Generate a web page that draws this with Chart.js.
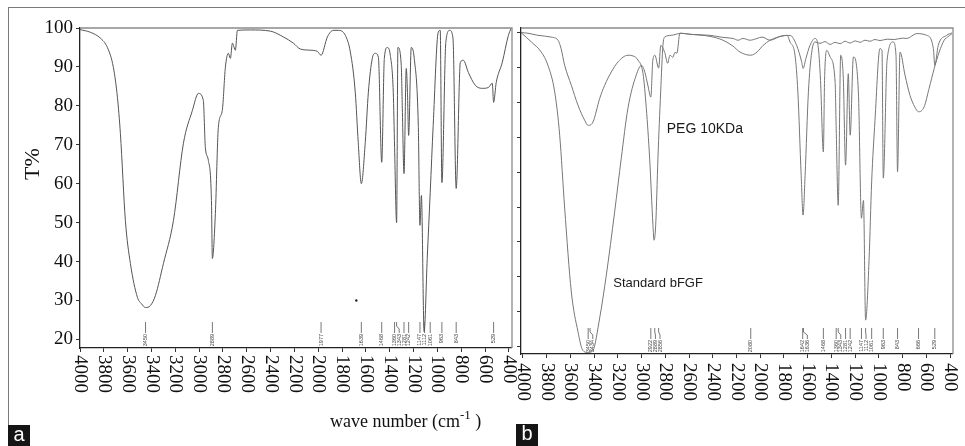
<!DOCTYPE html>
<html>
<head>
<meta charset="utf-8">
<script src="https://cdn.jsdelivr.net/npm/chart.js@4.4.1/dist/chart.umd.min.js"></script>
<style>
  html, body { margin: 0; padding: 0; background: #fff; }
  #wrap { position: relative; width: 965px; height: 446px; overflow: hidden; }
  #wrap canvas { position: absolute; left: 0; top: 0; }
  .frame { position: absolute; left: 8px; top: 7px; width: 970px; height: 418px;
           border-top: 1.5px solid #7a7a7a; border-left: 1.5px solid #7a7a7a; }
  .tag { position: absolute; width: 22px; height: 22px; background: #151515; color: #fff;
         font: 20px "Liberation Sans", Arial, sans-serif; line-height: 19px; text-align: center; }
</style>
</head>
<body>
<div id="wrap">
  <div class="frame"></div>
  <canvas id="chart-a" width="965" height="446"></canvas>
  <canvas id="chart-b" width="965" height="446"></canvas>
  <div class="tag" style="left:8px;top:425px">a</div>
  <div class="tag" style="left:516px;top:424px">b</div>
</div>
<script>
// Panel a: one FTIR trace (wave number cm-1 / transmittance %)
const aWave = [4000,3913,3829,3770,3720,3686,3661,3619,3577,3518,3485,3450,3409,3367,3300,3216,3132,3057,3006,2965,
  2948,2923,2897,2889,2864,2839,2806,2780,2755,2738,2721,2696,2679,2570,2403,2293,2209,2151,2067,2008,
  1977,1924,1874,1832,1773,1731,1690,1665,1639,1606,1580,1547,1522,1496,1468,1446,1421,1396,1371,1360,
  1343,1332,1304,1295,1281,1262,1252,1242,1220,1195,1161,1147,1135,1112,1086,1061,1036,994,977,963,
  930,897,870,843,808,783,741,683,624,574,540,529,507,456,405,383];
const aTrans = [99.6,98.9,97.4,95.0,89.9,82.2,72.9,50.5,39.5,30.8,29.2,28.2,28.7,31.3,39.5,50.5,70.4,78.8,83.2,81.4,
  69.3,66.0,55.7,40.8,52.3,74.5,78.8,89.9,93.5,92.2,96.1,94.3,99.4,99.5,99.2,97.7,96.1,94.6,94.3,94.0,
  93.0,97.7,99.4,99.4,98.1,93.8,83.5,70.6,60.0,70.6,83.5,92.2,93.5,92.5,65.5,92.2,95.0,93.0,83.5,69.3,
  50.0,95.0,90.4,79.4,62.6,89.6,83.5,72.4,95.0,92.2,75.0,49.3,57.0,22.0,40.8,57.7,75.0,98.9,99.4,60.3,
  96.3,99.4,97.4,58.8,91.2,91.7,88.6,85.3,84.5,84.7,85.8,80.9,86.0,91.2,98.1,99.9];
const aPeaks = [3450,2889,1977,1639,1468,1360,1343,1281,1242,1147,1112,1061,963,843,529];
const aDotWave = [1681];
const aDotTrans = [30];

// Panel b: PEG 10KDa and standard bFGF
const pegWave = [4016,3957,3873,3763,3704,3679,3648,3592,3536,3480,3450,3409,3353,3311,3255,3198,3114,3072,3030,2988,
  2960,2932,2904,2895,2881,2862,2839,2820,2805,2750,2665,2592,2423,2314,2229,2187,2145,2086,2027,1985,
  1917,1833,1749,1693,1651,1639,1615,1581,1539,1513,1492,1468,1458,1439,1411,1369,1360,1343,1322,1300,
  1281,1258,1242,1215,1173,1147,1130,1112,1083,1061,1033,991,974,963,931,879,856,843,822,780,
  738,698,666,619,577,534,492,450,422,384];
const pegTrans = [100.0,99.8,99.2,98.7,97.8,95.5,90.6,84.9,79.2,74.9,73.4,74.4,81.1,84.9,88.7,91.6,93.5,93.3,92.1,88.3,
  78.3,64.0,44.8,40.5,44.8,64.0,83.0,96.3,98.7,99.2,99.8,99.5,99.2,98.6,98.3,97.8,98.3,97.8,98.3,98.7,
  97.8,98.9,99.2,96.3,91.6,89.7,92.6,96.3,98.3,96.3,86.3,65.8,86.3,94.9,93.0,85.8,72.6,50.5,93.5,86.9,
  62.0,88.2,70.6,93.0,83.0,46.8,51.9,17.6,34.8,57.2,74.8,95.4,94.9,58.3,92.1,97.3,93.5,60.1,94.4,87.8,
  82.0,78.7,77.3,78.7,84.0,89.7,94.4,97.8,98.7,99.7];
const stdWave = [4016,3929,3845,3789,3732,3690,3648,3592,3536,3496,3450,3409,3353,3297,3227,3171,3115,3045,3000,2972,
  2947,2922,2905,2888,2856,2838,2805,2780,2761,2736,2719,2702,2677,2592,2423,2314,2229,2170,2080,2027,
  1976,1917,1858,1774,1749,1707,1683,1655,1639,1622,1594,1566,1538,1497,1455,1411,1369,1327,1285,1243,
  1200,1158,1116,1075,1033,990,931,870,800,765,681,597,541,529,500,429,386];
const stdTrans = [100.0,97.3,94.4,90.6,83.0,70.6,49.7,25.7,14.3,9.0,8.3,9.0,18.2,30.5,48.6,64.0,78.3,87.8,90.6,88.6,
  84.9,81.5,92.1,93.5,89.8,96.3,94.3,91.2,93.5,92.9,94.3,94.1,99.8,99.5,98.9,97.8,96.1,94.4,93.5,94.4,
  96.3,97.8,98.6,99.2,97.3,93.5,83.0,59.1,47.7,59.1,83.0,94.4,97.3,96.9,97.4,96.6,97.2,96.8,97.5,97.0,
  97.6,97.2,97.8,97.5,98.0,97.7,98.1,98.0,98.4,98.3,99.7,99.2,95.4,90.6,96.3,99.2,99.9];
const bPeaks = [3450,3434,2922,2889,2856,2080,1642,1636,1468,1360,1343,1281,1242,1147,1112,1061,963,843,666,529];
const bNotes = ["PEG 10KDa", "Standard bFGF"];
const bNoteWave = [2788, 3238];
const bNoteTrans = [71.1, 27.2];

const xTicks = [4000,3800,3600,3400,3200,3000,2800,2600,2400,2200,2000,1800,1600,1400,1200,1000,800,600,400];
const aYTicks = [20,30,40,50,60,70,80,90,100];
const bYTicks = [10,20,30,40,50,60,70,80,90,100];

const SERIF = '"Liberation Serif", "Times New Roman", serif';
const SANS = '"Liberation Sans", Arial, sans-serif';
const pts = (xs, ys) => xs.map((x, i) => ({ x, y: ys[i] }));

// Peak markers: short leader (bent when crowded), label rotated to read upward.
const drawPeaks = (chart, peaks, top) => {
  const c = chart.ctx, sx = chart.scales.x;
  let last = -Infinity;
  c.save();
  c.strokeStyle = "#555"; c.fillStyle = "#444"; c.lineWidth = 0.8;
  c.font = `5.5px ${SANS}`;
  peaks.forEach((p) => {
    const px = sx.getPixelForValue(p);
    const lx = Math.max(px, last + 4.6);
    last = lx;
    c.beginPath();
    c.moveTo(px, top); c.lineTo(px, top + 4); c.lineTo(lx, top + 7); c.lineTo(lx, top + 11);
    c.stroke();
    c.save();
    c.translate(lx, top + 12); c.rotate(-Math.PI / 2);
    c.textAlign = "right"; c.textBaseline = "middle";
    c.fillText(String(p), 0, 0);
    c.restore();
  });
  c.restore();
};

// x tick labels read top-to-bottom (rotated clockwise), which Chart.js can't do itself
const drawXLabels = (chart, gap) => {
  const c = chart.ctx, sx = chart.scales.x, y0 = chart.chartArea.bottom + gap;
  c.save();
  c.font = `19px ${SERIF}`; c.fillStyle = "#111";
  c.textAlign = "left"; c.textBaseline = "middle";
  xTicks.forEach((v) => {
    c.save();
    c.translate(sx.getPixelForValue(v), y0); c.rotate(Math.PI / 2);
    c.fillText(String(v), 0, 0);
    c.restore();
  });
  c.restore();
};

const boxEdge = (chart) => {
  const { left, right, top, bottom } = chart.chartArea;
  const c = chart.ctx;
  c.save();
  c.strokeStyle = "#8a8a8a"; c.lineWidth = 1.3;
  c.beginPath(); c.moveTo(left, top); c.lineTo(right + 1, top); c.lineTo(right + 1, bottom); c.stroke();
  c.restore();
};

const trace = (data, color) => ({
  data, borderColor: color, borderWidth: 1, pointRadius: 0,
  cubicInterpolationMode: "monotone", fill: false,
});

const axes = ({ xmin, xmax, ymin, ymax, yTicks, yWidth, xHeight, yLabels }) => ({
  x: {
    type: "linear", reverse: true, min: xmin, max: xmax,
    afterBuildTicks: (s) => { s.ticks = xTicks.map((v) => ({ value: v })); },
    afterFit: (s) => { s.height = xHeight; s.paddingLeft = 0; s.paddingRight = 0; },
    ticks: { display: false },
    grid: { drawOnChartArea: false, tickLength: 4, color: "#333" },
    border: { color: "#222", width: 1.3 },
  },
  y: {
    min: ymin, max: ymax,
    afterBuildTicks: (s) => { s.ticks = yTicks.map((v) => ({ value: v })); },
    afterFit: (s) => { s.width = yWidth; s.paddingTop = 0; s.paddingBottom = 0; },
    ticks: { display: yLabels, padding: 3, color: "#111", font: { family: SERIF, size: 19 } },
    grid: { drawOnChartArea: false, tickLength: 4, color: "#333" },
    border: { color: "#222", width: 1.3 },
  },
});

const base = { responsive: false, animation: false, events: [],
  plugins: { legend: { display: false }, tooltip: { enabled: false } } };

new Chart(document.getElementById("chart-a"), {
  type: "line",
  data: {
    datasets: [
      trace(pts(aWave, aTrans), "#555"),
      { data: pts(aDotWave, aDotTrans), showLine: false, pointRadius: 1.2, pointBorderWidth: 0,
        pointBackgroundColor: "#222" },
    ],
  },
  options: {
    ...base,
    layout: { padding: { left: 0, top: 28, right: 454, bottom: 0 } },
    scales: axes({ xmin: 383, xmax: 4000, ymin: 17.8, ymax: 100, yTicks: aYTicks,
                   yWidth: 80, xHeight: 98, yLabels: true }),
  },
  plugins: [{
    id: "panelA",
    afterDraw(chart) {
      boxEdge(chart);
      drawPeaks(chart, aPeaks, 322);
      drawXLabels(chart, 7);
      const c = chart.ctx;
      c.save();
      c.fillStyle = "#111";
      c.font = `22px ${SERIF}`;
      c.translate(33, 164); c.rotate(-Math.PI / 2);
      c.textAlign = "center"; c.textBaseline = "middle";
      c.fillText("T%", 0, 0);
      c.restore();
      c.save();
      c.fillStyle = "#111"; c.textBaseline = "alphabetic";
      c.font = `18px ${SERIF}`;
      let x = 330;
      c.fillText("wave number (cm", x, 427);
      x += c.measureText("wave number (cm").width;
      c.font = `13px ${SERIF}`;
      c.fillText("-1", x, 419);
      x += c.measureText("-1").width;
      c.font = `18px ${SERIF}`;
      c.fillText(" )", x, 427);
      c.restore();
    },
  }],
});

new Chart(document.getElementById("chart-b"), {
  type: "line",
  data: {
    datasets: [
      trace(pts(pegWave, pegTrans), "#777"),
      trace(pts(stdWave, stdTrans), "#777"),
    ],
  },
  options: {
    ...base,
    layout: { padding: { left: 511, top: 28, right: 13, bottom: 0 } },
    scales: axes({ xmin: 384, xmax: 4016, ymin: 7.9, ymax: 101.3, yTicks: bYTicks,
                   yWidth: 10, xHeight: 92, yLabels: false }),
  },
  plugins: [{
    id: "panelB",
    afterDraw(chart) {
      boxEdge(chart);
      drawPeaks(chart, bPeaks, 328);
      drawXLabels(chart, 9);
      const c = chart.ctx, sx = chart.scales.x, sy = chart.scales.y;
      c.save();
      c.fillStyle = "#1a1a1a"; c.textAlign = "left"; c.textBaseline = "alphabetic";
      bNotes.forEach((t, i) => {
        c.font = `${i === 0 ? 14 : 13}px ${SANS}`;
        c.fillText(t, sx.getPixelForValue(bNoteWave[i]), sy.getPixelForValue(bNoteTrans[i]));
      });
      c.restore();
    },
  }],
});
</script>
</body>
</html>
